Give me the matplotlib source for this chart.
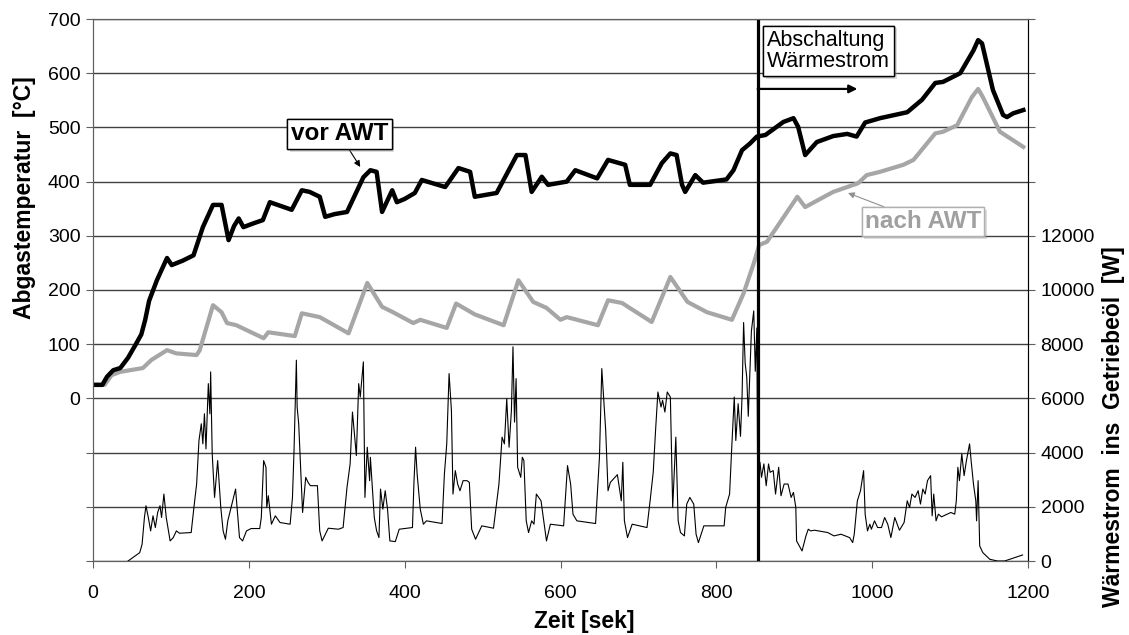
import matplotlib.pyplot as plt
import matplotlib.patheffects as pe

plt.rcParams['font.family'] = ['Liberation Sans', 'DejaVu Sans']

# Abgastemperatur vor AWT [°C]
vor_t = [0, 12, 18, 26, 35, 45, 55, 62, 67, 72, 82, 95, 101, 115, 129, 141, 154, 165, 174, 181,
         187, 193, 206, 218, 227, 255, 268, 278, 291, 298, 310, 326, 347, 356, 364, 371, 384, 390,
         400, 413, 422, 452, 469, 484, 490, 518, 544, 555, 563, 576, 584, 608, 619, 647, 661, 683,
         689, 715, 730, 741, 749, 756, 760, 773, 783, 813, 822, 833, 843, 852, 863, 886, 899, 905,
         914, 929, 950, 968, 980, 991, 1010, 1045, 1064, 1081, 1091, 1113, 1130, 1136, 1141, 1155,
         1168, 1173, 1181, 1194]
vor_T = [25, 25, 40, 52, 56, 75, 100, 118, 145, 180, 218, 259, 246, 254, 264, 316, 357, 357, 292, 318,
         332, 316, 323, 329, 362, 348, 384, 381, 372, 335, 340, 344, 408, 421, 418, 344, 384, 362,
         368, 379, 403, 390, 425, 418, 372, 379, 449, 449, 381, 409, 394, 400, 421, 406, 440, 431,
         394, 394, 434, 452, 449, 394, 381, 412, 398, 404, 421, 458, 470, 483, 486, 510, 517, 501,
         449, 473, 484, 488, 483, 509, 517, 528, 551, 582, 584, 600, 642, 661, 655, 569,
         523, 519, 526, 532]

# Abgastemperatur nach AWT [°C]
nach_t = [0, 15, 24, 35, 64, 75, 95, 107, 133, 137, 154, 165, 172, 184, 219, 225, 259, 268, 291, 328,
          352, 371, 385, 411, 420, 454, 466, 490, 527, 546, 565, 582, 600, 608, 648, 661, 679, 717,
          741, 763, 788, 820, 835, 848, 855, 865, 904, 914, 950, 982, 993, 1010, 1040, 1053, 1081,
          1091, 1109, 1128, 1136, 1142, 1164, 1194]
nach_T = [25, 25, 43, 49, 56, 71, 89, 83, 80, 89, 172, 159, 139, 135, 111, 122, 115, 157, 150, 120,
          213, 169, 159, 139, 145, 130, 175, 155, 135, 218, 178, 167, 145, 150, 135, 181, 176, 141,
          224, 178, 159, 145, 194, 249, 283, 289, 372, 353, 381, 397, 412, 418, 431, 440, 489,
          492, 504, 556, 571, 556, 492, 464]

# Wärmestrom ins Getriebeöl [W]
heat_t = [45, 60, 63, 66, 68, 71, 74, 77, 80, 83, 86, 88, 91, 94, 99, 103, 107, 111, 126, 130,
          133, 136, 139, 141, 143, 145, 148, 150, 151, 153, 156, 160, 164, 167, 170, 173, 183, 188,
          192, 197, 203, 214, 216, 219, 222, 223, 225, 229, 234, 240, 253, 256, 258, 261, 262, 264,
          267, 269, 273, 276, 279, 288, 291, 294, 302, 315, 321, 326, 330, 333, 338, 341, 343, 347,
          349, 352, 355, 356, 361, 364, 367, 369, 372, 375, 378, 381, 388, 393, 410, 412, 414, 416,
          420, 424, 428, 448, 451, 454, 457, 460, 462, 465, 468, 471, 475, 480, 483, 486, 491, 499,
          514, 521, 525, 528, 531, 534, 537, 539, 541, 543, 545, 549, 551, 553, 556, 559, 563, 566,
          569, 575, 582, 587, 604, 609, 613, 616, 621, 645, 650, 653, 658, 661, 664, 673, 678, 680,
          682, 686, 692, 711, 715, 719, 722, 725, 729, 731, 734, 737, 741, 744, 748, 751, 754, 759,
          762, 766, 771, 774, 777, 784, 810, 812, 817, 820, 823, 825, 828, 831, 833, 835, 837, 839,
          841, 845, 848, 850, 852, 853, 856, 858, 861, 864, 867, 869, 873, 876, 880, 883, 887, 892,
          896, 899, 902, 903, 910, 915, 918, 921, 926, 943, 951, 960, 971, 975, 977, 981, 985, 989,
          991, 994, 997, 999, 1003, 1007, 1012, 1016, 1020, 1024, 1029, 1035, 1041, 1045, 1048,
          1051, 1055, 1059, 1062, 1065, 1068, 1071, 1075, 1077, 1079, 1082, 1085, 1089, 1101, 1106,
          1108, 1110, 1112, 1115, 1118, 1121, 1125, 1127, 1130, 1133, 1134, 1136, 1138, 1142, 1151,
          1161, 1170, 1183, 1193]
heat_W = [0, 309, 618, 1605, 2038, 1605, 1111, 1667, 1235, 1790, 2038, 1605, 2470, 1605, 741, 864, 1111, 1025, 1050, 2100,
          2840, 4446, 5063, 4322, 5434, 4137, 6545, 5434, 6978, 3952, 2346, 3705, 1976, 1111, 803, 1482, 2655, 864,
          741, 1111, 1198, 1198, 1605, 3705, 3458, 1976, 2408, 1358, 1667, 1420, 1358, 2346, 4075, 7410, 5681, 5063,
          3088, 1790, 3088, 2902, 2779, 2779, 1111, 741, 1210, 1173, 1235, 2717, 3582, 5496, 3890, 6545, 6051, 7348,
          2346, 4199, 2964, 3828, 1605, 1111, 864, 2655, 1914, 2593, 1914, 741, 716, 1173, 1235, 2964, 4199, 3211,
          1914, 1358, 1482, 1383, 3211, 4322, 6916, 5557, 2470, 3335, 2840, 2593, 2964, 2964, 2902, 1173, 803, 1297,
          1210, 2840, 4570, 4322, 5990, 4199, 5557, 7904, 5125, 6730, 3458, 3088, 3828, 3705, 1482, 1050, 1482, 1358,
          2470, 2223, 741, 1358, 1297, 3520, 2840, 1729, 1482, 1383, 3828, 7101, 4817, 2593, 2902, 3186, 2223, 3643,
          1482, 864, 1358, 1235, 2223, 3273, 4817, 6237, 5681, 5928, 5496, 6237, 6051, 1976, 4570, 1482, 1050, 926,
          2100, 2346, 2100, 988, 679, 1297, 1297, 1976, 2470, 4322, 6051, 4446, 5804, 4600, 6051, 8800, 7300, 6800,
          5340, 8480, 9230, 7000, 8600, 3335, 3643, 3088, 3582, 2779, 3582, 3273, 3335, 2470, 3458, 2408, 2840, 2840,
          2346, 2532, 1976, 741, 370, 926, 1173, 1111, 1136, 1050, 926, 988, 864, 679, 988, 2223, 2593, 3335,
          1729, 1111, 1358, 1173, 1482, 1235, 1235, 1605, 1358, 864, 1605, 1136, 1420, 2223, 1976,
          2470, 2346, 2593, 2100, 2655, 2470, 2964, 3149, 1667, 2470, 1482, 1729, 1630, 1790, 1729,
          2223, 3458, 2964, 3952, 3149, 3705, 4322, 3705, 2840, 2223, 1482, 2964, 556, 309, 62,
          0, 0, 124, 222]

abschaltung = 853
temp_ticks = list(range(-300, 701, 100))
heat_ticks = list(range(0, 20001, 2000))
zeit_ticks = list(range(0, 1201, 200))

fig = plt.figure(figsize=(11.29, 6.35), dpi=100)
ax = fig.add_axes([93 / 1129, 1 - 561 / 635, 935 / 1129, 542 / 635])
ax2 = ax.twinx()

ax.plot(nach_t, nach_T, color='#a6a6a6', lw=3.0, solid_joinstyle='round')
ax.plot(vor_t, vor_T, color='black', lw=3.2, solid_joinstyle='round')
ax2.plot(heat_t, heat_W, color='black', lw=0.8)
ax2.axvline(abschaltung, color='black', lw=2.3)

ax.set_xlim(0, 1200)
ax.set_ylim(-300, 700)
ax2.set_ylim(0, 20000)

ax.set_xticks(zeit_ticks)
ax.set_yticks(temp_ticks)
ax.set_yticklabels(['' if v < 0 else str(v) for v in temp_ticks])
ax2.set_yticks(heat_ticks)
ax2.set_yticklabels(['' if v > 12000 else str(v) for v in heat_ticks])

ax.grid(axis='y', color='#404040', lw=1.0)
ax.set_axisbelow(True)
ax.tick_params(axis='y', labelsize=14, length=5, color='#606060', pad=4)
ax.tick_params(axis='x', labelsize=14, length=5, color='#606060', pad=12)
ax2.tick_params(labelsize=14, length=5, color='#606060', pad=4)
for a in (ax, ax2):
    for s in a.spines.values():
        s.set_color('#606060')
ax2.spines['right'].set_color('black')

fig.text(0.022, 1 - 198 / 635, 'Abgastemperatur  [°C]', rotation=90, fontsize=16.5,
         fontweight='bold', ha='center', va='center')
fig.text(0.986, 1 - 427 / 635, 'Wärmestrom  ins  Getriebeöl  [W]', rotation=90, fontsize=16.5,
         fontweight='bold', ha='center', va='center')
fig.text(584 / 1129, 0.022, 'Zeit [sek]', fontsize=16.5, fontweight='bold', ha='center', va='center')

shadow = [pe.withSimplePatchShadow(offset=(2, -2), shadow_rgbFace='#999999', alpha=0.35), pe.Normal()]

a1 = ax.annotate('vor AWT', xy=(343, 427), xytext=(316, 488), fontsize=17.5, fontweight='bold',
                 ha='center', va='center',
                 bbox=dict(boxstyle='square,pad=0.15', fc='white', ec='black', lw=1),
                 arrowprops=dict(arrowstyle='-|>', color='black', lw=0.8, mutation_scale=9,
                                 shrinkA=0, shrinkB=0))
a1.get_bbox_patch().set_path_effects(shadow)

a2 = ax.annotate('nach AWT', xy=(969, 379), xytext=(1065, 326), fontsize=17.5, fontweight='bold',
                 color='#a0a0a0', ha='center', va='center',
                 bbox=dict(boxstyle='square,pad=0.12', fc='white', ec='#b0b0b0', lw=1),
                 arrowprops=dict(arrowstyle='-|>', color='#909090', lw=0.8, mutation_scale=9,
                                 shrinkA=0, shrinkB=0))
a2.get_bbox_patch().set_path_effects(shadow)

a3 = ax.text(944, 641, 'Abschaltung\nWärmestrom', fontsize=15.5, ha='center', va='center',
             linespacing=1.0, multialignment='left',
             bbox=dict(boxstyle='square,pad=0.2', fc='white', ec='black', lw=1), zorder=5)
a3.get_bbox_patch().set_path_effects(shadow)

ax.annotate('', xy=(981, 571), xytext=(abschaltung, 571),
            arrowprops=dict(arrowstyle='-|>', color='black', lw=1.6, mutation_scale=12,
                            shrinkA=0, shrinkB=0))

fig.savefig('out.png', dpi=100)
